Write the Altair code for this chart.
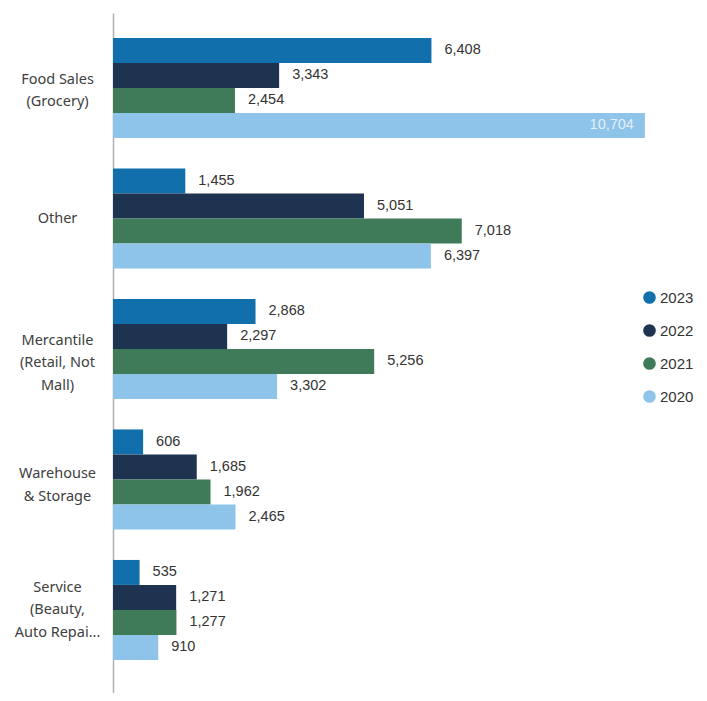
import altair as alt
import pandas as pd

categories = ["Food Sales|(Grocery)", "Other", "Mercantile|(Retail, Not|Mall)",
              "Warehouse|& Storage", "Service|(Beauty,|Auto Repai..."]
years = ["2023", "2022", "2021", "2020"]
colors = ["#1170ab", "#1e3350", "#3f7b58", "#8ec4ea"]
values = {
    "2023": [6408, 1455, 2868, 606, 535],
    "2022": [3343, 5051, 2297, 1685, 1271],
    "2021": [2454, 7018, 5256, 1962, 1277],
    "2020": [10704, 6397, 3302, 2465, 910],
}

rows = []
for y in years:
    for c, v in zip(categories, values[y]):
        rows.append({"category": c, "year": y, "value": v})
df = pd.DataFrame(rows)

W = 569
H = 680
xscale = alt.Scale(domain=[0, 11450], nice=False)
yscale = alt.Scale(domain=categories, paddingInner=0.234, paddingOuter=0.2225, align=0.43)
yoff = alt.YOffset("year:N", sort=years, scale=alt.Scale(domain=years, paddingInner=0, paddingOuter=0))

label_offset = {
    "condition": [
        {"test": "indexof(datum.value, 'Service') == 0", "value": -22},
        {"test": "indexof(datum.value, 'Warehouse') == 0", "value": -5},
        {"test": "datum.value == 'Other'", "value": 1},
    ],
    "value": -8,
}

base = alt.Chart(df).encode(
    y=alt.Y("category:N", sort=categories, scale=yscale,
            axis=alt.Axis(title=None, labelExpr="split(datum.label, '|')",
                          labelAlign="center", labelPadding=56, ticks=False,
                          labelFont="Noto Sans", labelFontSize=14.5, labelColor="#404040",
                          labelLineHeight=22.5, domainColor="#b0b0b0", domainWidth=1.5,
                          labelBaseline="middle", labelOffset=label_offset, grid=False)),
    yOffset=yoff,
)

bars = base.mark_bar().encode(
    x=alt.X("value:Q", scale=xscale, axis=None),
    color=alt.Color("year:N", sort=years,
                    scale=alt.Scale(domain=years, range=colors),
                    legend=alt.Legend(title=None, orient="none", legendX=529, legendY=277,
                                      symbolType="circle", symbolSize=160, symbolStrokeWidth=0,
                                      labelFont="Liberation Sans", labelFontSize=15,
                                      labelColor="#333333", rowPadding=17, labelOffset=3,
                                      labelLimit=100)),
)

outside = base.mark_text(align="left", dx=13, font="Liberation Sans", fontSize=14.5,
                         color="#333333", baseline="middle").encode(
    x=alt.X("value:Q", scale=xscale),
    text=alt.Text("value:Q", format=","),
).transform_filter("datum.value < 10000")

inside = base.mark_text(align="right", dx=-11, font="Liberation Sans", fontSize=14.5,
                        color="#e4eef8", baseline="middle").encode(
    x=alt.X("value:Q", scale=xscale),
    text=alt.Text("value:Q", format=","),
).transform_filter("datum.value >= 10000")

chart = alt.layer(bars, outside, inside).properties(
    width=W, height=H,
    autosize=alt.AutoSizeParams(type="none"),
    padding={"left": 105, "top": 5, "right": 12, "bottom": 0},
).configure(background="white").configure_view(stroke=None)

chart.save("out.html", embed_options={"renderer": "svg", "actions": False})
